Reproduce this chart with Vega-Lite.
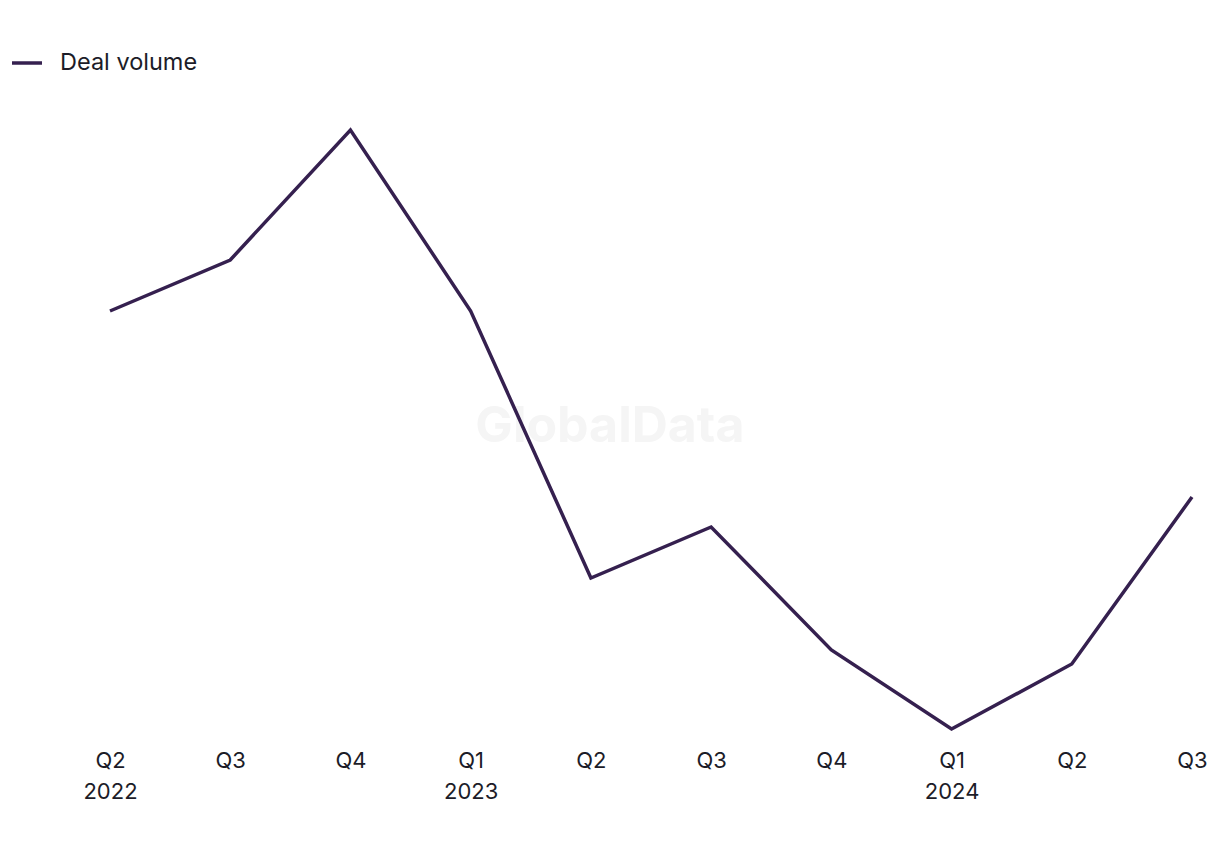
{
  "$schema": "https://vega.github.io/schema/vega-lite/v6.json",
  "width": 1082,
  "height": 660,
  "autosize": "none",
  "padding": {"left": 110, "top": 80, "right": 28, "bottom": 110},
  "background": "white",
  "config": {
    "view": {"stroke": null},
    "font": "Inter"
  },
  "data": {
    "values": [
      {"period": "Q2 2022", "series": "Deal volume", "value": 429},
      {"period": "Q3 2022", "series": "Deal volume", "value": 480},
      {"period": "Q4 2022", "series": "Deal volume", "value": 610},
      {"period": "Q1 2023", "series": "Deal volume", "value": 429},
      {"period": "Q2 2023", "series": "Deal volume", "value": 162},
      {"period": "Q3 2023", "series": "Deal volume", "value": 213},
      {"period": "Q4 2023", "series": "Deal volume", "value": 90},
      {"period": "Q1 2024", "series": "Deal volume", "value": 11},
      {"period": "Q2 2024", "series": "Deal volume", "value": 76},
      {"period": "Q3 2024", "series": "Deal volume", "value": 243}
    ]
  },
  "encoding": {
    "x": {
      "field": "period",
      "type": "ordinal",
      "sort": ["Q2 2022", "Q3 2022", "Q4 2022", "Q1 2023", "Q2 2023", "Q3 2023", "Q4 2023", "Q1 2024", "Q2 2024", "Q3 2024"],
      "scale": {"type": "point", "padding": 0},
      "axis": {
        "title": null,
        "domain": false,
        "ticks": false,
        "grid": false,
        "labelAngle": 0,
        "labelFontSize": 22,
        "labelColor": "#1c1c28",
        "labelPadding": 10,
        "labelLineHeight": 31,
        "labelExpr": "(indexof(datum.value, 'Q1') == 0 || datum.value == 'Q2 2022') ? split(datum.value, ' ') : slice(datum.value, 0, 2)"
      }
    },
    "y": {
      "field": "value",
      "type": "quantitative",
      "scale": {"domain": [0, 660], "nice": false, "zero": true},
      "axis": null
    }
  },
  "layer": [
    {
      "transform": [{"filter": "datum.period == 'Q2 2023'"}],
      "mark": {"type": "text", "text": "GlobalData", "fontSize": 50, "fontWeight": "bold", "color": "#f5f5f5", "dx": 19, "font": "Inter"},
      "encoding": {
        "y": {"datum": 313, "type": "quantitative"}
      }
    },
    {
      "mark": {"type": "line", "strokeWidth": 3.5, "strokeJoin": "miter"},
      "encoding": {
        "color": {
          "field": "series",
          "type": "nominal",
          "scale": {"range": ["#35204f"]},
          "legend": {
            "title": null,
            "orient": "none",
            "legendX": -100,
            "legendY": -34,
            "symbolType": "stroke",
            "symbolSize": 900,
            "symbolStrokeWidth": 3.5,
            "labelFontSize": 23.5,
            "labelColor": "#1c1c28",
            "labelOffset": 16
          }
        }
      }
    }
  ]
}
